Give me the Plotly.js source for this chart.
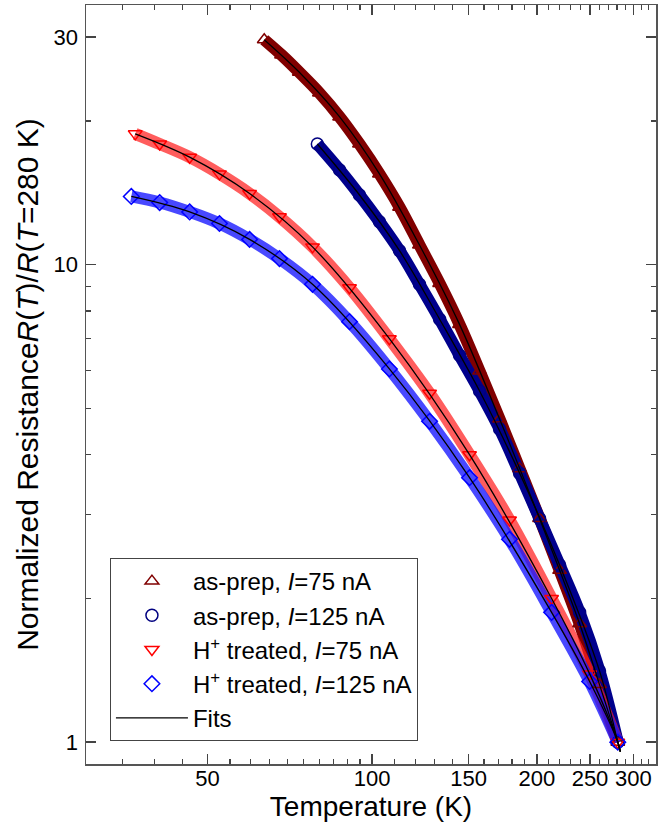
<!DOCTYPE html>
<html><head><meta charset="utf-8">
<script src="https://cdn.plot.ly/plotly-3.0.1.min.js"></script>
<style>html,body{margin:0;padding:0;background:#fff;} #chart{width:671px;height:827px;}</style>
</head><body><div id="chart"></div>
<script>
// as-prep, I=75 nA
const tAsPrep75 = [63.5, 68.3, 73.6, 80.1, 87.2, 94.8, 103.1, 112.2, 122.0, 132.8, 144.4, 157.1, 170.9, 185.9, 202.2, 220.0, 239.3, 260.2, 281];
const rAsPrep75 = [29.6, 27.5, 25.3, 22.9, 20.4, 17.9, 15.5, 13.2, 11.0, 9.14, 7.50, 5.99, 4.75, 3.74, 2.94, 2.29, 1.77, 1.32, 1.0];
// as-prep, I=125 nA
const tAsPrep125 = [79.4, 87.2, 94.8, 103.1, 112.2, 122.0, 132.8, 144.4, 157.1, 170.9, 185.9, 202.2, 220.0, 239.3, 260.2, 281];
const rAsPrep125 = [17.9, 15.8, 14.0, 12.3, 10.7, 9.10, 7.69, 6.46, 5.44, 4.53, 3.66, 2.94, 2.35, 1.87, 1.41, 1.0];
// H+ treated, I=75 nA
const tH75 = [36.9, 40.9, 46.4, 52.6, 59.7, 67.7, 77.8, 90.9, 107.5, 127.3, 150.6, 178.2, 212.7, 249.6, 281];
const rH75 = [18.8, 17.9, 16.8, 15.5, 14.1, 12.6, 10.9, 8.95, 7.0, 5.38, 4.0, 2.92, 2.0, 1.39, 1.0];
// H+ treated, I=125 nA
const tH125 = [36.3, 40.9, 46.4, 52.6, 59.7, 67.7, 77.8, 90.9, 107.5, 127.3, 150.6, 178.2, 212.7, 249.6, 281];
const rH125 = [13.9, 13.5, 12.9, 12.2, 11.3, 10.3, 9.1, 7.6, 6.05, 4.70, 3.58, 2.66, 1.87, 1.34, 1.0];
// fit curves
const fitTAsPrep75 = [63.5, 73.6, 87.2, 103.1, 122.0, 144.4, 170.9, 202.2, 239.3, 260.2, 281, 284];
const fitRAsPrep75 = [29.6, 25.3, 20.4, 15.5, 11.0, 7.50, 4.75, 2.94, 1.77, 1.32, 1.0, 0.955];
const fitTAsPrep125 = [79.4, 94.8, 112.2, 132.8, 157.1, 185.9, 220.0, 260.2, 281, 284];
const fitRAsPrep125 = [17.9, 14.0, 10.7, 7.69, 5.44, 3.66, 2.35, 1.41, 1.0, 0.955];
const fitTH75 = [36.9, 46.4, 59.7, 77.8, 107.5, 150.6, 212.7, 249.6, 281, 284];
const fitRH75 = [18.8, 16.8, 14.1, 10.9, 7.0, 4.0, 2.0, 1.39, 1.0, 0.955];
const fitTH125 = [36.3, 46.4, 59.7, 77.8, 107.5, 150.6, 212.7, 249.6, 281, 284];
const fitRH125 = [13.9, 12.9, 11.3, 9.1, 6.05, 3.58, 1.87, 1.34, 1.0, 0.955];

const seriesNames = ['as-prep, <i>I</i>=75 nA', 'as-prep, <i>I</i>=125 nA', 'H<sup>+</sup> treated, <i>I</i>=75 nA', 'H<sup>+</sup> treated, <i>I</i>=125 nA'];
const xTickVals = [50, 100, 150, 200, 250, 300];
const xMinorVals = [35, 40, 45, 55, 60, 65, 70, 75, 80, 85, 90, 95, 110, 120, 130, 140, 160, 170, 180, 190, 210, 220, 230, 240, 260, 270, 280, 290, 310, 320];
const yTickVals = [1, 10, 30];
const yMinorVals = [2, 3, 4, 5, 6, 7, 8, 9, 20];

const sets = [
  {t: tAsPrep75, r: rAsPrep75, ft: fitTAsPrep75, fr: fitRAsPrep75, color: '#800000', band: 'rgba(128,0,0,1)', symbol: 'triangle-up-open'},
  {t: tAsPrep125, r: rAsPrep125, ft: fitTAsPrep125, fr: fitRAsPrep125, color: '#000080', band: 'rgba(0,0,140,1)', symbol: 'circle-open'},
  {t: tH75, r: rH75, ft: fitTH75, fr: fitRH75, color: '#FF0000', band: 'rgba(255,30,30,0.72)', symbol: 'triangle-down-open'},
  {t: tH125, r: rH125, ft: fitTH125, fr: fitRH125, color: '#0000FF', band: 'rgba(20,20,255,0.78)', symbol: 'diamond-open'}
];

const traces = [];
sets.forEach(s => {
  traces.push({x: s.t, y: s.r, type: 'scatter', mode: 'lines', showlegend: false, hoverinfo: 'skip',
    line: {color: s.band, width: 12, shape: 'spline'}});
});
sets.forEach((s, i) => {
  traces.push({x: s.t, y: s.r, type: 'scatter', mode: 'markers', name: seriesNames[i],
    marker: {symbol: s.symbol, size: 12, color: s.color, line: {color: s.color, width: 1.5}}});
});
sets.forEach((s, i) => {
  traces.push({x: s.ft, y: s.fr, type: 'scatter', mode: 'lines', name: 'Fits', legendgroup: 'fits', showlegend: i === 0,
    line: {color: '#000000', width: 1.3, shape: 'spline'}});
});

const font = 'Liberation Sans, Arial, sans-serif';
const axisCommon = {
  type: 'log', showgrid: false, zeroline: false, showline: true, linecolor: '#555', linewidth: 1.5,
  mirror: 'ticks', ticks: 'inside', ticklen: 10, tickwidth: 1.5, tickcolor: '#444',
  tickfont: {family: font, size: 22, color: '#000'}
};
const layout = {
  width: 671, height: 827,
  margin: {l: 86, r: 15, t: 5, b: 63},
  paper_bgcolor: '#fff', plot_bgcolor: '#fff',
  font: {family: font, color: '#000'},
  xaxis: Object.assign({}, axisCommon, {
    range: [Math.log10(30), Math.log10(330)],
    tickmode: 'array', tickvals: xTickVals, ticktext: xTickVals.map(String),
    minor: {tickmode: 'array', tickvals: xMinorVals, ticks: 'inside', ticklen: 5, tickwidth: 1.2, tickcolor: '#444'},
    ticklabelstandoff: -6,
    title: {text: 'Temperature (K)', font: {family: font, size: 28, color: '#000'}, standoff: 4}
  }),
  yaxis: Object.assign({}, axisCommon, {
    range: [Math.log10(0.9), Math.log10(35)],
    tickmode: 'array', tickvals: yTickVals, ticktext: yTickVals.map(String),
    minor: {tickmode: 'array', tickvals: yMinorVals, ticks: 'inside', ticklen: 5, tickwidth: 1.2, tickcolor: '#444'},
    ticklabelstandoff: 2,
    title: {text: 'Normalized Resistance<i>R</i>(<i>T</i>)/<i>R</i>(<i>T</i>=280 K)', font: {family: font, size: 30, color: '#000'}, standoff: 6}
  }),
  legend: {
    x: 0.042, y: 0.2714, xanchor: 'left', yanchor: 'top',
    bgcolor: '#fff', bordercolor: '#444', borderwidth: 1,
    font: {family: font, size: 24, color: '#000'},
    itemwidth: 72, tracegroupgap: 0
  },
  showlegend: true
};

Plotly.newPlot('chart', traces, layout, {displayModeBar: false, staticPlot: true});
</script></body></html>
